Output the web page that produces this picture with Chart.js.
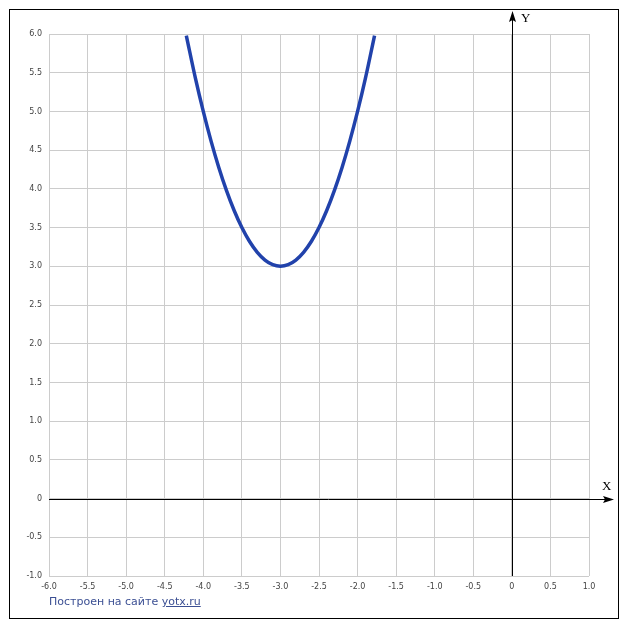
<!DOCTYPE html>
<html>
<head>
<meta charset="utf-8">
<script src="https://cdn.jsdelivr.net/npm/chart.js@4"></script>
<style>
  body { margin: 0; background: #fff; }
  #wrap { position: relative; width: 627px; height: 630px; }
  #credit {
    position: absolute; left: 49px; top: 595px;
    font: 11px "DejaVu Sans", sans-serif; color: #3b4f93;
  }
  #credit a { color: #3b4f93; text-decoration: underline; }
</style>
</head>
<body>
<div id="wrap">
  <canvas id="graph" width="627" height="630"></canvas>
  <div id="credit">Построен на сайте <a>yotx.ru</a></div>
</div>
<script>
// points
var xs = [-4.22, -4.1, -4.0, -3.9, -3.8, -3.7, -3.6, -3.5, -3.4, -3.3, -3.2, -3.1, -3.0,
          -2.9, -2.8, -2.7, -2.6, -2.5, -2.4, -2.3, -2.2, -2.1, -2.0, -1.9, -1.78];
var ys = [5.98, 5.42, 5.0, 4.62, 4.28, 3.98, 3.72, 3.5, 3.32, 3.18, 3.08, 3.02, 3.0,
          3.02, 3.08, 3.18, 3.32, 3.5, 3.72, 3.98, 4.28, 4.62, 5.0, 5.42, 5.98];
var xTicks = [-6.0, -5.5, -5.0, -4.5, -4.0, -3.5, -3.0, -2.5, -2.0, -1.5, -1.0, -0.5, 0, 0.5, 1.0];
var yTicks = [-1.0, -0.5, 0, 0.5, 1.0, 1.5, 2.0, 2.5, 3.0, 3.5, 4.0, 4.5, 5.0, 5.5, 6.0];

var pts = xs.map(function (x, i) { return { x: x, y: ys[i] }; });

function fmt(v) { return v === 0 ? '0' : v.toFixed(1); }

var axesPlugin = {
  id: 'axes',
  afterDraw: function (chart) {
    var c = chart.ctx, sx = chart.scales.x, sy = chart.scales.y;
    var x0 = Math.round(sx.getPixelForValue(0)) + 0.5;
    var y0 = Math.round(sy.getPixelForValue(0)) + 0.5;
    c.save();
    c.strokeStyle = '#000';
    c.fillStyle = '#000';
    c.lineWidth = 1;
    // outer frame
    c.strokeRect(9.5, 9.5, 609, 609);
    // x axis
    c.beginPath();
    c.moveTo(sx.left, y0);
    c.lineTo(608, y0);
    c.stroke();
    c.beginPath();
    c.moveTo(614, y0);
    c.lineTo(603, y0 - 3.5);
    c.lineTo(605, y0);
    c.lineTo(603, y0 + 3.5);
    c.closePath();
    c.fill();
    // y axis
    c.beginPath();
    c.moveTo(x0, sy.bottom);
    c.lineTo(x0, 16);
    c.stroke();
    c.beginPath();
    c.moveTo(x0, 11);
    c.lineTo(x0 - 3.5, 22);
    c.lineTo(x0, 20);
    c.lineTo(x0 + 3.5, 22);
    c.closePath();
    c.fill();
    c.font = '13px "Liberation Serif", serif';
    c.textBaseline = 'alphabetic';
    c.fillText('Y', 521, 22);
    c.fillText('X', 602, 490);
    c.restore();
  }
};

new Chart(document.getElementById('graph'), {
  type: 'scatter',
  data: {
    datasets: [{
      data: pts,
      showLine: true,
      borderColor: '#2142ab',
      borderWidth: 3.5,
      pointRadius: 0,
      tension: 0.4,
      fill: false
    }]
  },
  options: {
    responsive: false,
    animation: false,
    layout: { padding: { top: 34, right: 38, left: 0, bottom: 0 } },
    plugins: { legend: { display: false }, tooltip: { enabled: false } },
    scales: {
      x: {
        type: 'linear', min: -6, max: 1,
        afterBuildTicks: function (s) { s.ticks = xTicks.map(function (v) { return { value: v }; }); },
        afterFit: function (s) { s.height = 54; },
        grid: { color: '#cccccc', lineWidth: 1, drawTicks: false },
        border: { display: false },
        ticks: {
          padding: 6, color: '#444', maxRotation: 0, autoSkip: false,
          font: { family: 'DejaVu Sans', size: 8 },
          callback: function (v) { return fmt(v); }
        }
      },
      y: {
        type: 'linear', min: -1, max: 6,
        afterBuildTicks: function (s) { s.ticks = yTicks.map(function (v) { return { value: v }; }); },
        afterFit: function (s) { s.width = 49; },
        grid: { color: '#cccccc', lineWidth: 1, drawTicks: false },
        border: { display: false },
        ticks: {
          padding: 7, color: '#444', autoSkip: false,
          font: { family: 'DejaVu Sans', size: 8 },
          callback: function (v) { return fmt(v); }
        }
      }
    }
  },
  plugins: [axesPlugin]
});
</script>
</body>
</html>
